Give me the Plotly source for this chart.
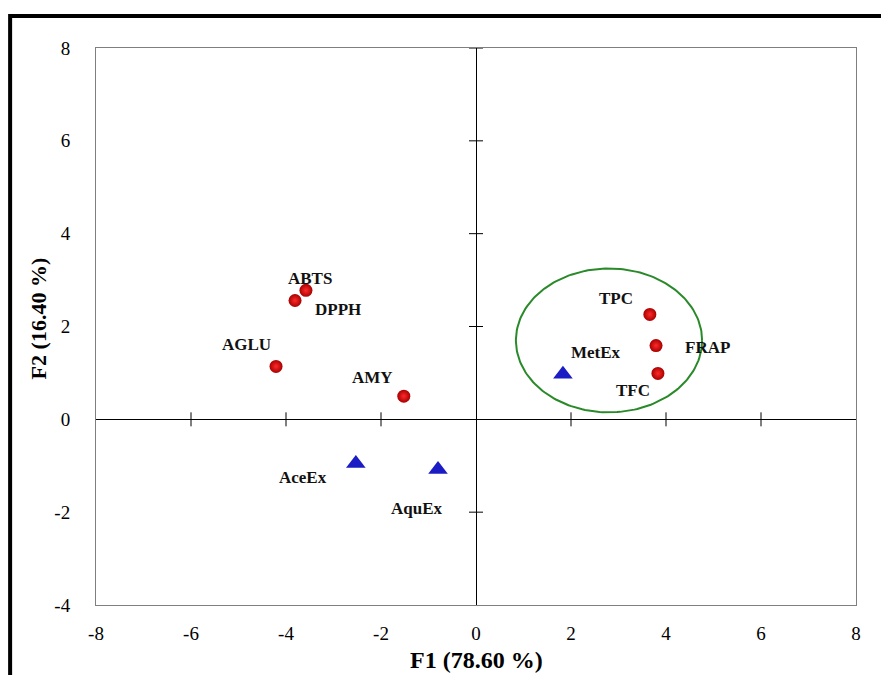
import plotly.graph_objects as go
import numpy as np

# ---- data ----
var_names = ["ABTS", "DPPH", "AGLU", "AMY", "TPC", "FRAP", "TFC"]
var_f1 = [-3.58, -3.81, -4.21, -1.52, 3.66, 3.79, 3.83]
var_f2 = [2.78, 2.56, 1.14, 0.50, 2.26, 1.59, 0.99]

obs_names = ["MetEx", "AceEx", "AquEx"]
obs_f1 = [1.83, -2.53, -0.80]
obs_f2 = [0.97, -0.95, -1.08]

x_ticks = [-8, -6, -4, -2, 0, 2, 4, 6, 8]
y_ticks = [-4, -2, 0, 2, 4, 6, 8]
x_ticklabels = ["-8", "-6", "-4", "-2", "0", "2", "4", "6", "8"]
y_ticklabels = ["-4", "-2", "0", "2", "4", "6", "8"]

ellipse_center = (2.8, 1.70)
ellipse_radii = (1.96, 1.55)

x_title = "F1 (78.60 %)"
y_title = "F2 (16.40 %)"

# ---- style: label offsets in px (xshift, yshift) ----
label_offsets = {
    "ABTS": (4, 12), "DPPH": (43, -9), "AGLU": (-30, 22), "AMY": (-31, 19),
    "TPC": (-34, 16), "FRAP": (51, -2), "TFC": (-25, -17),
    "MetEx": (33, 22), "AceEx": (-53, -14), "AquEx": (-21, -39),
}

FONT = "Liberation Serif, Times New Roman, serif"

fig = go.Figure()

# tick marks crossing the zero axes
xt = [v for v in x_ticks if v not in (-8, 0, 8)]
yt = [v for v in y_ticks if v not in (-4, 0)]
fig.add_trace(go.Scatter(
    x=xt, y=[0] * len(xt), mode="markers",
    marker=dict(symbol="line-ns", size=10, line=dict(color="black", width=1)),
    hoverinfo="skip", showlegend=False, cliponaxis=False))
fig.add_trace(go.Scatter(
    x=[0] * len(yt), y=yt, mode="markers",
    marker=dict(symbol="line-ew", size=10, line=dict(color="black", width=1)),
    hoverinfo="skip", showlegend=False, cliponaxis=False))

# ellipse
t = np.linspace(0, 2 * np.pi, 200)
fig.add_trace(go.Scatter(
    x=ellipse_center[0] + ellipse_radii[0] * np.cos(t),
    y=ellipse_center[1] + ellipse_radii[1] * np.sin(t),
    mode="lines", line=dict(color="#2a8a2a", width=2),
    hoverinfo="skip", showlegend=False))

fig.add_trace(go.Scatter(
    x=var_f1, y=var_f2, mode="markers", name="Variables",
    marker=dict(symbol="circle", size=13, color="#a80000",
                gradient=dict(type="radial", color="#ff2a2a"),
                line=dict(width=0)),
    showlegend=False))
fig.add_trace(go.Scatter(
    x=obs_f1, y=obs_f2, mode="markers", name="Observations",
    marker=dict(symbol="triangle-up", size=17, color="#1c1cc4",
                line=dict(width=0)),
    showlegend=False))

for names, xs, ys in ((var_names, var_f1, var_f2), (obs_names, obs_f1, obs_f2)):
    for n, x, y in zip(names, xs, ys):
        dx, dy = label_offsets[n]
        fig.add_annotation(x=x, y=y, text=f"<b>{n}</b>", showarrow=False,
                           xshift=dx, yshift=dy,
                           font=dict(family=FONT, size=17, color="#111111"))

fig.add_annotation(text=f"<b>{x_title}</b>", xref="paper", yref="paper",
                   x=0.5, y=-0.099, yanchor="middle", showarrow=False,
                   font=dict(family=FONT, size=24, color="black"))
fig.add_annotation(text=f"<b>{y_title}</b>", xref="paper", yref="paper",
                   x=-0.076, y=0.515, textangle=-90, xanchor="center",
                   yanchor="middle", showarrow=False,
                   font=dict(family=FONT, size=22, color="black"))

# outer frame
fig.add_shape(type="rect", xref="paper", yref="paper",
              x0=-0.113, x1=1.1, y0=-0.2, y1=1.0575,
              line=dict(color="black", width=4), layer="below")

fig.update_xaxes(range=[-8, 8], tickvals=x_ticks, ticktext=x_ticklabels,
                 ticks="", showgrid=False, ticklabelstandoff=11,
                 zeroline=True, zerolinecolor="black", zerolinewidth=1,
                 showline=True, linecolor="#7f7f7f", linewidth=1, mirror=True,
                 tickfont=dict(family=FONT, size=19, color="black"))
fig.update_yaxes(range=[-4, 8], tickvals=y_ticks, ticktext=y_ticklabels,
                 ticks="", showgrid=False, ticklabelstandoff=21,
                 zeroline=True, zerolinecolor="black", zerolinewidth=1,
                 showline=True, linecolor="#7f7f7f", linewidth=1, mirror=True,
                 tickfont=dict(family=FONT, size=19, color="black"))

fig.update_layout(width=881, height=667, plot_bgcolor="white", paper_bgcolor="white",
                  margin=dict(l=88, r=33, t=40, b=70), showlegend=False)

fig.write_html("out.html")
